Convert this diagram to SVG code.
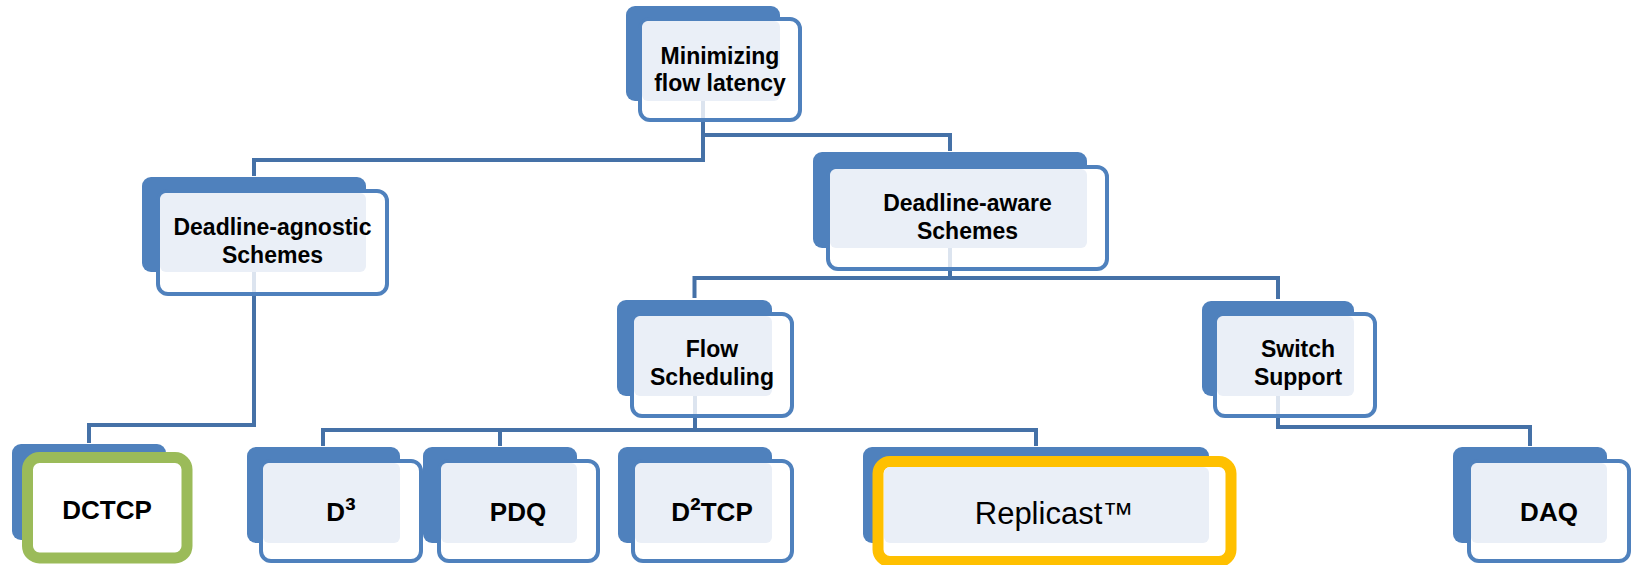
<svg xmlns="http://www.w3.org/2000/svg" width="1632" height="565" viewBox="0 0 1632 565">
  <style>
    .back { fill: #4F81BD; }
    .front { fill: #FFFFFF; stroke: #4F81BD; stroke-width: 4; }
    .panel { fill: #EAEFF7; }
    .green { fill: #FFFFFF; stroke: #9BBB59; stroke-width: 11; }
    .gold { fill: #FFFFFF; stroke: #FFC000; stroke-width: 11; }
    .hole { stroke: #DCE4EF; stroke-width: 4; }
    .link { fill: none; stroke: #4571A7; stroke-width: 4; stroke-linejoin: miter; }
    .lbl { font-family: "Liberation Sans", Arial, sans-serif; font-weight: bold; font-size: 23px; fill: #000000; text-anchor: middle; }
    .big { font-size: 26px; }
    .sup { font-size: 32px; }
    .thin { font-family: "Liberation Sans", Arial, sans-serif; font-weight: normal; font-size: 31px; fill: #000000; text-anchor: middle; }
  </style>

  <!-- connectors -->
  <g id="connectors">
    <path class="link" d="M703,122 V160 H254 V176"/>
    <path class="link" d="M703,135 H950 V151"/>
    <path class="link" d="M950,271 V278"/>
    <path class="link" d="M694.5,298 V278 H1278 V299"/>
    <path class="link" d="M254,296 V425 H89 V443"/>
    <path class="link" d="M695,418 V430"/>
    <path class="link" d="M323,446 V430 H1036 V446"/>
    <path class="link" d="M500,430 V446"/>
    <path class="link" d="M1278,418 V427 H1530 V446"/>
  </g>

  <g id="node-root">
    <rect class="back" x="626" y="6" width="154" height="95" rx="9"/>
    <rect class="front" x="640" y="19" width="160" height="101" rx="10"/>
    <rect class="panel" x="642" y="21" width="138" height="80" rx="6"/>
    <line class="hole" x1="703" y1="101" x2="703" y2="118"/>
    <text class="lbl" x="720" y="64">Minimizing</text>
    <text class="lbl" x="720" y="91">flow latency</text>
  </g>

  <g id="node-agnostic">
    <rect class="back" x="142" y="177" width="224" height="95" rx="9"/>
    <rect class="front" x="158" y="191" width="229" height="103" rx="10"/>
    <rect class="panel" x="160" y="193" width="206" height="79" rx="6"/>
    <line class="hole" x1="254" y1="272" x2="254" y2="292"/>
    <text class="lbl" x="272.5" y="235">Deadline-agnostic</text>
    <text class="lbl" x="272.5" y="263">Schemes</text>
  </g>

  <g id="node-aware">
    <rect class="back" x="813" y="152" width="274" height="96" rx="9"/>
    <rect class="front" x="828" y="167" width="279" height="102" rx="10"/>
    <rect class="panel" x="830" y="169" width="257" height="79" rx="6"/>
    <line class="hole" x1="950" y1="248" x2="950" y2="267"/>
    <text class="lbl" x="967.5" y="211">Deadline-aware</text>
    <text class="lbl" x="967.5" y="239">Schemes</text>
  </g>

  <g id="node-flow">
    <rect class="back" x="617" y="300" width="155" height="96" rx="9"/>
    <rect class="front" x="632" y="314" width="160" height="102" rx="10"/>
    <rect class="panel" x="634" y="316" width="138" height="80" rx="6"/>
    <line class="hole" x1="695" y1="396" x2="695" y2="414"/>
    <text class="lbl" x="712" y="357">Flow</text>
    <text class="lbl" x="712" y="385">Scheduling</text>
  </g>

  <g id="node-switch">
    <rect class="back" x="1202" y="301" width="152" height="95" rx="9"/>
    <rect class="front" x="1215" y="314" width="160" height="102" rx="10"/>
    <rect class="panel" x="1217" y="316" width="137" height="80" rx="6"/>
    <line class="hole" x1="1278" y1="396" x2="1278" y2="414"/>
    <text class="lbl" x="1298" y="357">Switch</text>
    <text class="lbl" x="1298" y="385">Support</text>
  </g>

  <g id="node-dctcp">
    <rect class="back" x="12" y="444" width="154" height="96" rx="9"/>
    <rect class="green" x="27.5" y="457.5" width="159.5" height="100.5" rx="12"/>
    <text class="lbl big" x="107" y="519">DCTCP</text>
  </g>

  <g id="node-d3">
    <rect class="back" x="247" y="447" width="153" height="96" rx="9"/>
    <rect class="front" x="261" y="461" width="160" height="100" rx="10"/>
    <rect class="panel" x="263" y="463" width="137" height="80" rx="6"/>
    <text class="lbl big" x="341" y="521">D<tspan class="sup">³</tspan></text>
  </g>

  <g id="node-pdq">
    <rect class="back" x="423" y="447" width="154" height="96" rx="9"/>
    <rect class="front" x="439" y="461" width="159" height="100" rx="10"/>
    <rect class="panel" x="441" y="463" width="136" height="80" rx="6"/>
    <text class="lbl big" x="518" y="521">PDQ</text>
  </g>

  <g id="node-d2tcp">
    <rect class="back" x="618" y="447" width="154" height="96" rx="9"/>
    <rect class="front" x="633" y="461" width="159" height="100" rx="10"/>
    <rect class="panel" x="635" y="463" width="137" height="80" rx="6"/>
    <text class="lbl big" x="712" y="521">D<tspan class="sup">²</tspan>TCP</text>
  </g>

  <g id="node-replicast">
    <rect class="back" x="863" y="447" width="346" height="96" rx="9"/>
    <rect class="gold" x="878" y="461.5" width="353" height="100" rx="12"/>
    <rect class="panel" x="884" y="467" width="325" height="76" rx="6"/>
    <text class="thin" x="1054" y="524">Replicast™</text>
  </g>

  <g id="node-daq">
    <rect class="back" x="1453" y="447" width="154" height="96" rx="9"/>
    <rect class="front" x="1469" y="461" width="160" height="100" rx="10"/>
    <rect class="panel" x="1471" y="463" width="136" height="80" rx="6"/>
    <text class="lbl big" x="1549" y="521">DAQ</text>
  </g>
</svg>
